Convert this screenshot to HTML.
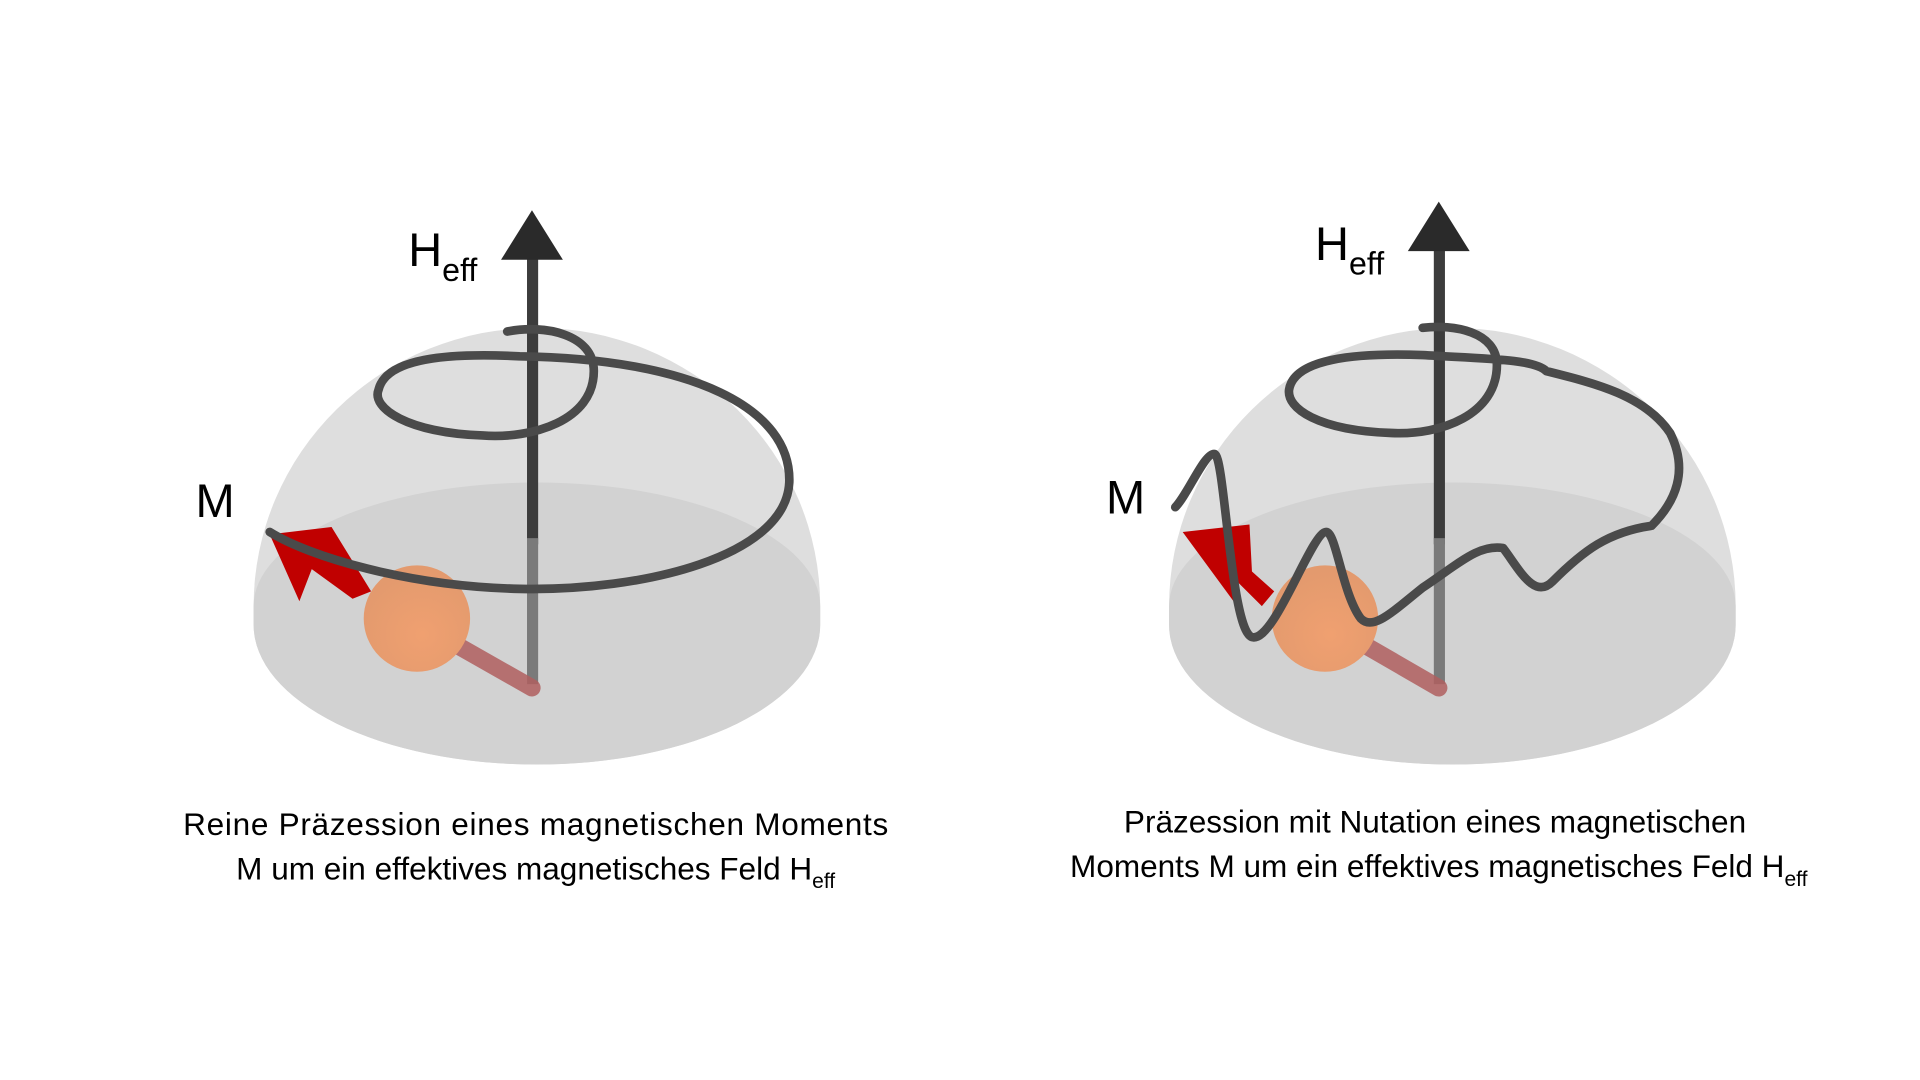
<!DOCTYPE html>
<html><head><meta charset="utf-8"><style>
html,body{margin:0;padding:0;background:#fff;}
svg{display:block;}
</style></head><body>
<svg width="1920" height="1080" viewBox="0 0 1552 873" preserveAspectRatio="none" xmlns="http://www.w3.org/2000/svg">
<defs>
<radialGradient id="sph" cx="0.55" cy="0.65" r="0.6"><stop offset="0" stop-color="#f0a070"/><stop offset="1" stop-color="#e39a6e"/></radialGradient>
<g id="dome">
  <path d="M-229,0 A229,225 0 0 1 229,0 L229,15 A229,113 0 0 1 -229,15 Z" fill="#dedede"/>
  <path d="M-229,0 A229,100 0 0 1 229,0 L229,15 A229,113 0 0 1 -229,15 Z" fill="#d2d2d2"/>
</g>
</defs>
<!-- LEFT -->
<g transform="translate(434,490)"><use href="#dome"/></g>
<rect x="426" y="200" width="9" height="240" fill="#3c3c3c"/>
<rect x="426" y="435" width="9" height="118" fill="#7a7a7a"/>
<polygon points="430,170 455,210 405,210" fill="#2a2a2a"/>
<line x1="430" y1="556" x2="305" y2="485" stroke="#b06060" stroke-width="14" stroke-linecap="round" opacity="0.85"/>
<circle cx="337" cy="500" r="43" fill="url(#sph)"/>
<polygon points="218,432 268,426 300,478 285,484 252,460 242,486" fill="#c00000"/>
<path d="M410,268 C440,262 480,270 480,300 C480,340 430,355 390,352 C330,350 300,330 306,315 C312,290 360,285 420,288 C560,290 640,330 638,390 C635,450 520,478 420,476 C330,474 250,450 218,430" fill="none" stroke="#4a4a4a" stroke-width="7" stroke-linecap="round"/>
<text x="330" y="215" font-family="Liberation Sans, sans-serif" font-size="38" fill="#000">H<tspan font-size="26" dy="12">eff</tspan></text>
<text x="158" y="418" font-family="Liberation Sans, sans-serif" font-size="38" fill="#000">M</text>
<text x="433" y="675" text-anchor="middle" font-family="Liberation Sans, sans-serif" font-size="25.5" textLength="570" fill="#000">Reine Präzession eines magnetischen Moments</text>
<text x="433" y="711" text-anchor="middle" font-family="Liberation Sans, sans-serif" font-size="25.5" fill="#000">M um ein effektives magnetisches Feld H<tspan font-size="17" dy="7">eff</tspan></text>
<!-- RIGHT -->
<g transform="translate(1174,490)"><use href="#dome"/></g>
<rect x="1159" y="195" width="9" height="245" fill="#3c3c3c"/>
<rect x="1159" y="435" width="9" height="118" fill="#7a7a7a"/>
<polygon points="1163,163 1188,203 1138,203" fill="#2a2a2a"/>
<line x1="1163" y1="556" x2="1040" y2="485" stroke="#b06060" stroke-width="14" stroke-linecap="round" opacity="0.85"/>
<circle cx="1071" cy="500" r="43" fill="url(#sph)"/>
<polygon points="956,430 1010,424 1012,462 1030,478 1020,490 1000,470 1000,490" fill="#c00000"/>
<path d="M1150,265 C1175,262 1210,268 1210,295 C1210,335 1165,352 1125,350 C1065,348 1040,330 1042,315 C1046,290 1095,285 1150,287 C1200,290 1240,290 1250,300 C1290,310 1330,320 1350,350 C1365,380 1355,405 1335,425 C1300,430 1280,445 1255,470 C1240,485 1228,460 1215,443 C1195,440 1180,455 1150,475 C1125,495 1110,510 1100,500 C1085,480 1080,430 1072,430 C1060,430 1030,520 1012,515 C995,510 990,370 982,367 C974,365 960,400 950,410" fill="none" stroke="#4a4a4a" stroke-width="7" stroke-linecap="round" stroke-linejoin="round"/>
<text x="1063" y="210" font-family="Liberation Sans, sans-serif" font-size="38" fill="#000">H<tspan font-size="26" dy="12">eff</tspan></text>
<text x="894" y="415" font-family="Liberation Sans, sans-serif" font-size="38" fill="#000">M</text>
<text x="1160" y="673" text-anchor="middle" font-family="Liberation Sans, sans-serif" font-size="25.5" fill="#000">Präzession mit Nutation eines magnetischen</text>
<text x="1163" y="709" text-anchor="middle" font-family="Liberation Sans, sans-serif" font-size="25.5" fill="#000">Moments M um ein effektives magnetisches Feld H<tspan font-size="17" dy="7">eff</tspan></text>
</svg>
</body></html>
